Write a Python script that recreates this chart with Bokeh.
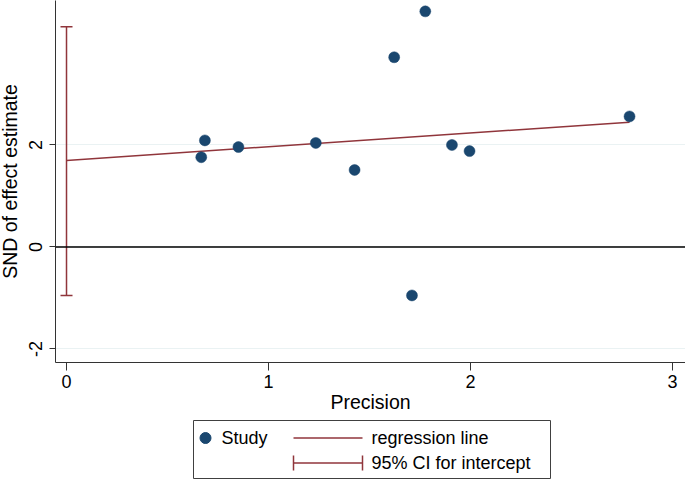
import math
from bokeh.plotting import figure
from bokeh.models import Range1d, FixedTicker, Whisker, Span, ColumnDataSource, TeeHead
from bokeh.layouts import column, row
from bokeh.core.properties import value
from bokeh.embed import file_html
from bokeh.resources import INLINE

# ---- data ----
precision = [0.667, 0.685, 0.851, 1.234, 1.426, 1.622, 1.710, 1.776, 1.908, 1.995, 2.787]
snd = [1.76, 2.09, 1.96, 2.04, 1.51, 3.72, -0.95, 4.62, 2.00, 1.88, 2.56]
reg_intercept = 1.696
reg_slope = 0.2695
ci_lower = -0.95
ci_upper = 4.32
x_ticks = [0, 1, 2, 3]
y_ticks = [-2, 0, 2]
y_tick_labels = ["-2", "0", "2"]
x_title = "Precision"
y_title = "SND of effect estimate"
legend_labels = ["Study", "regression line", "95% CI for intercept"]

NAVY = "#1a476f"
MAROON = "#90353b"
GRID = "#eaf2f3"
AXIS = "#333333"
FONT = "Liberation Sans"

LEFT_W = 48          # width of the y-label strip
TOP_H = 418          # height of the plotting row
BOTTOM = 56          # x-axis area below the frame

y_range = Range1d(-2.265, 4.833)

# ---- main plot ----
p = figure(width=685 - LEFT_W, height=TOP_H, x_range=Range1d(-0.0545, 3.064), y_range=y_range,
           output_backend="svg", toolbar_location=None,
           min_border_left=7, min_border_right=0, min_border_top=0, min_border_bottom=BOTTOM)
p.outline_line_color = None
p.background_fill_color = "white"
p.border_fill_color = "white"

p.xgrid.visible = False
p.ygrid.ticker = FixedTicker(ticks=y_ticks)
p.ygrid.grid_line_color = GRID
p.ygrid.grid_line_width = 1

p.xaxis.ticker = FixedTicker(ticks=x_ticks)
p.yaxis.ticker = FixedTicker(ticks=y_ticks)
for ax in (p.xaxis[0], p.yaxis[0]):
    ax.axis_line_color = AXIS
    ax.axis_line_width = 1
    ax.major_tick_line_color = AXIS
    ax.minor_tick_line_color = None
    ax.major_tick_in = 0
    ax.major_label_text_font = FONT
    ax.major_label_text_font_size = "18px"
    ax.major_label_text_color = "black"
    ax.axis_label_text_font = FONT
    ax.axis_label_text_font_size = "19.5px"
    ax.axis_label_text_font_style = "normal"
    ax.axis_label_text_color = "black"
p.xaxis.major_tick_out = 8
p.xaxis.major_label_standoff = 4
p.xaxis.axis_label_standoff = 0
p.xaxis.axis_label = x_title
p.yaxis.major_tick_out = 6
p.yaxis.major_label_standoff = 0
p.yaxis.major_label_text_alpha = 0   # labels are drawn, rotated, in the strip on the left

# zero line
p.add_layout(Span(location=0, dimension="width", line_color="black", line_width=1.6))

# CI for intercept
ci_src = ColumnDataSource(dict(base=[0], lower=[ci_lower], upper=[ci_upper]))
p.add_layout(Whisker(source=ci_src, base="base", lower="lower", upper="upper", dimension="height",
                     line_color=MAROON, line_width=1.5,
                     upper_head=TeeHead(size=12, line_color=MAROON, line_width=1.5),
                     lower_head=TeeHead(size=12, line_color=MAROON, line_width=1.5)))

# regression line
x_end = max(precision)
p.line([0, x_end], [reg_intercept, reg_intercept + reg_slope * x_end], line_color=MAROON, line_width=1.5)

# studies
p.scatter(precision, snd, size=11, fill_color=NAVY, line_color=NAVY, line_width=0.5)

# ---- y label strip (shares the y scale) ----
yl = figure(width=LEFT_W, height=TOP_H, x_range=Range1d(0, LEFT_W), y_range=y_range,
            output_backend="svg", toolbar_location=None,
            min_border_left=0, min_border_right=0, min_border_top=0, min_border_bottom=BOTTOM)
yl.axis.visible = False
yl.grid.visible = False
yl.outline_line_color = None
yl.background_fill_color = "white"
yl.border_fill_color = "white"
yl.text(x=[35] * len(y_ticks), y=y_ticks, text=y_tick_labels, angle=math.pi / 2,
        text_font=value(FONT), text_font_size="18px", text_align="center", text_baseline="middle",
        text_color="black")
yl.text(x=[9], y=[(y_range.start + y_range.end) / 2], text=[y_title], angle=math.pi / 2,
        text_font=value(FONT), text_font_size="19.5px", text_align="center", text_baseline="middle",
        text_color="black")

# ---- legend panel (page coordinates) ----
lg = figure(width=685, height=480 - TOP_H, x_range=Range1d(0, 685), y_range=Range1d(480, TOP_H),
            output_backend="svg", toolbar_location=None,
            min_border_left=0, min_border_right=0, min_border_top=0, min_border_bottom=0)
lg.axis.visible = False
lg.grid.visible = False
lg.outline_line_color = None
lg.background_fill_color = "white"
lg.border_fill_color = "white"

lg.quad(left=[193], right=[550], top=[420], bottom=[478], fill_color=None, line_color="#404040", line_width=1)
lg.scatter([205], [437.5], size=11, fill_color=NAVY, line_color=NAVY)
lg.segment(x0=[293], y0=[437.5], x1=[362], y1=[437.5], line_color=MAROON, line_width=1.5)
lg.segment(x0=[293, 293, 362], y0=[462.5, 455, 455], x1=[362, 293, 362], y1=[462.5, 470, 470],
           line_color=MAROON, line_width=1.5)
lg.text(x=[221, 371, 371], y=[437.5, 437.5, 462.5], text=legend_labels,
        text_font=value(FONT), text_font_size="18px", text_baseline="middle", text_align="left",
        text_color="black")

layout = column(row(yl, p, spacing=0), lg, spacing=0)
open("out.html", "w").write(file_html(layout, INLINE))
